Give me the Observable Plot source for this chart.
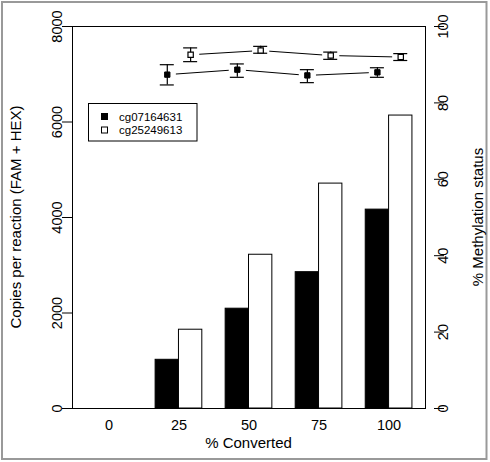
<!DOCTYPE html>
<html><head><meta charset="utf-8">
<script src="https://cdn.jsdelivr.net/npm/d3@7"></script>
<script src="https://cdn.jsdelivr.net/npm/@observablehq/plot@0.6"></script>
<style>body{margin:0;background:#fff} #chart{width:490px;height:462px}</style>
</head><body><div id="chart"></div>
<script>
const groups = ["0", "25", "50", "75", "100"];
const seriesNames = ["cg07164631", "cg25249613"];
const copiesCg07164631 = [0, 1020, 2090, 2855, 4165];
const copiesCg25249613 = [0, 1650, 3220, 4710, 6135];
const methCg07164631 = [null, 87.4, 88.7, 87.2, 88.0];
const methLoCg07164631 = [null, 84.7, 86.7, 85.3, 86.7];
const methHiCg07164631 = [null, 90.0, 90.2, 88.7, 89.2];
const methCg25249613 = [null, 92.6, 93.7, 92.4, 92.0];
const methLoCg25249613 = [null, 90.8, 93.0, 91.4, 91.1];
const methHiCg25249613 = [null, 94.4, 94.8, 93.3, 92.9];
const copiesTicks = [0, 2000, 4000, 6000, 8000];
const methTicks = [0, 20, 40, 60, 80, 100];

const K = 8000 / 100; // right axis (0-100) onto left axis (0-8000)
const copies = [copiesCg07164631, copiesCg25249613];
const meth = [methCg07164631, methCg25249613];
const methLo = [methLoCg07164631, methLoCg25249613];
const methHi = [methHiCg07164631, methHiCg25249613];

const rows = [];
groups.forEach((g, gi) => seriesNames.forEach((s, si) => {
  rows.push({group: g, series: s, si, left: gi * 3 + 1 + si, copies: copies[si][gi],
    meth: meth[si][gi], lo: methLo[si][gi], hi: methHi[si][gi]});
}));
const pts = rows.filter(d => d.meth != null);
const segs = [];
seriesNames.forEach((s, si) => {
  const p = pts.filter(d => d.si === si);
  for (let i = 0; i < p.length - 1; i++) segs.push({a: p[i], b: p[i + 1]});
});
const groupPos = groups.map((g, gi) => gi * 3 + 2);
const cap = 0.3;

const plot = Plot.plot({
  width: 490, height: 462,
  marginLeft: 72, marginRight: 65, marginTop: 26, marginBottom: 54,
  style: {fontFamily: "'Liberation Sans', Arial, sans-serif", fontSize: "14.5px", background: "transparent", overflow: "visible"},
  x: {type: "linear", domain: [0.44, 15.56]},
  y: {domain: [0, 8000]},
  marks: [
    Plot.rectY(rows.filter(d => d.si === 0), {x1: "left", x2: d => d.left + 1, y: "copies", fill: "black", stroke: "black", strokeWidth: 1}),
    Plot.rectY(rows.filter(d => d.si === 1), {x1: "left", x2: d => d.left + 1, y: "copies", fill: "white", stroke: "black", strokeWidth: 1}),
    Plot.frame({stroke: "black"}),
    Plot.axisY({ticks: copiesTicks, tickFormat: d => String(d), tickSize: 10, tickRotate: -90, label: null, tickPadding: 1}),
    Plot.axisY({anchor: "right", ticks: methTicks.map(v => v * K), tickFormat: d => String(Math.round(d / K)), tickSize: 10, tickRotate: -90, label: null, tickPadding: 4, dx: 8}),
    Plot.axisX({ticks: groupPos, tickFormat: d => groups[Math.round((d - 2) / 3)], tickSize: 0, tickPadding: 11, label: null}),
    Plot.arrow(segs, {x1: d => d.a.left + 0.5, y1: d => d.a.meth * K, x2: d => d.b.left + 0.5, y2: d => d.b.meth * K, headLength: 0, inset: 9, stroke: "black", strokeWidth: 1}),
    Plot.ruleX(pts, {x: d => d.left + 0.5, y1: d => d.lo * K, y2: d => d.hi * K, stroke: "black", strokeWidth: 1.2}),
    Plot.ruleY(pts, {y: d => d.lo * K, x1: d => d.left + 0.5 - cap, x2: d => d.left + 0.5 + cap, stroke: "black", strokeWidth: 1.2}),
    Plot.ruleY(pts, {y: d => d.hi * K, x1: d => d.left + 0.5 - cap, x2: d => d.left + 0.5 + cap, stroke: "black", strokeWidth: 1.2}),
    Plot.dot(pts.filter(d => d.si === 0), {x: d => d.left + 0.5, y: d => d.meth * K, symbol: "square", r: 3, fill: "black", stroke: "black", strokeWidth: 1}),
    Plot.dot(pts.filter(d => d.si === 1), {x: d => d.left + 0.5, y: d => d.meth * K, symbol: "square", r: 3, fill: "white", stroke: "black", strokeWidth: 1.2})
  ]
});
document.getElementById("chart").appendChild(plot);

const svg = d3.select(plot);
svg.append("rect").attr("x", 2).attr("y", 2).attr("width", 484.5).attr("height", 457)
  .attr("fill", "none").attr("stroke", "#999").attr("stroke-width", 2);
const tf = "'Liberation Sans', Arial, sans-serif";
svg.append("text").attr("transform", "translate(21,217) rotate(-90)").attr("text-anchor", "middle")
  .attr("font-family", tf).attr("font-size", 15).attr("fill", "black").text("Copies per reaction (FAM + HEX)");
svg.append("text").attr("transform", "translate(483,217) rotate(-90)").attr("text-anchor", "middle")
  .attr("font-family", tf).attr("font-size", 15).attr("fill", "black").text("% Methylation status");
svg.append("text").attr("x", 248.5).attr("y", 448).attr("text-anchor", "middle")
  .attr("font-family", tf).attr("font-size", 15).attr("fill", "black").text("% Converted");

const lg = svg.append("g");
lg.append("rect").attr("x", 88.5).attr("y", 103.5).attr("width", 108.5).attr("height", 37.5)
  .attr("fill", "white").attr("stroke", "black");
seriesNames.forEach((s, i) => {
  const cy = 116.5 + i * 13.5;
  lg.append("rect").attr("x", 101.5).attr("y", cy - 3).attr("width", 6).attr("height", 6)
    .attr("fill", i === 0 ? "black" : "white").attr("stroke", "black");
  lg.append("text").attr("x", 119).attr("y", cy).attr("dy", "0.35em").attr("text-anchor", "start")
    .attr("font-family", tf).attr("font-size", 11.5).attr("fill", "black").text(s);
});
</script>
</body></html>
